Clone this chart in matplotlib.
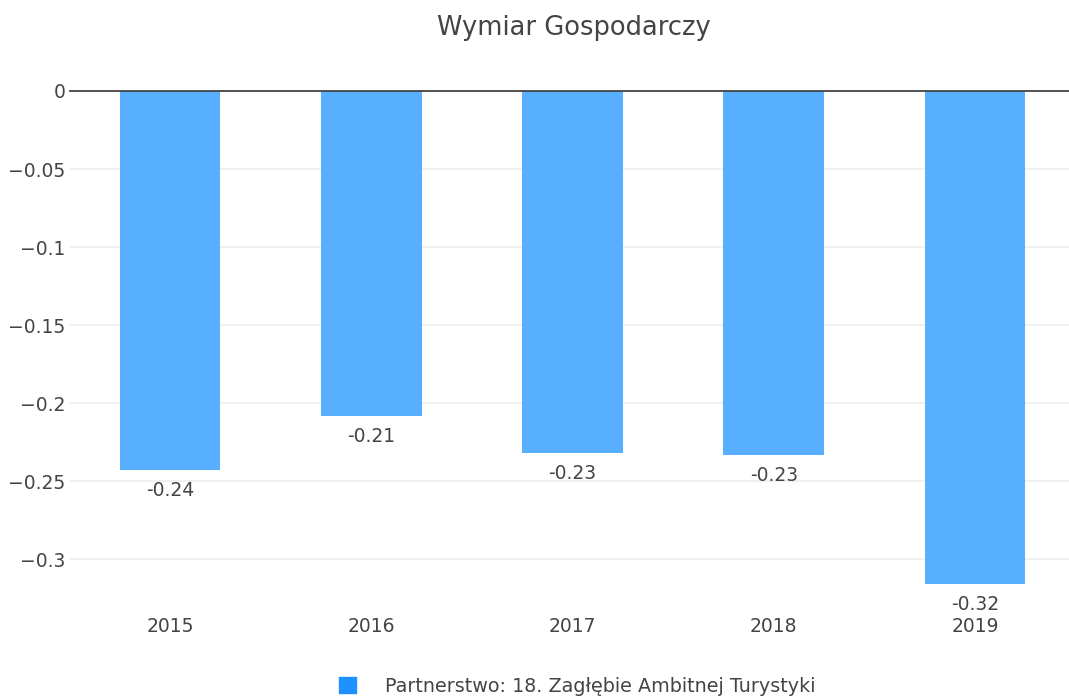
import matplotlib
matplotlib.use("Agg")
import matplotlib.pyplot as plt
import matplotlib.patches as mpatches

plt.rcParams["font.family"] = ["DejaVu Sans"]

years = ["2015", "2016", "2017", "2018", "2019"]
values = [-0.243, -0.208, -0.232, -0.233, -0.316]
labels = ["-0.24", "-0.21", "-0.23", "-0.23", "-0.32"]
yticks = [0, -0.05, -0.1, -0.15, -0.2, -0.25, -0.3]
ytick_labels = ["0", "\u22120.05", "\u22120.1", "\u22120.15", "\u22120.2", "\u22120.25", "\u22120.3"]
series_name = "Partnerstwo: 18. Zagłębie Ambitnej Turystyki"

txt = "#444444"
bar_color = "#58AEFF"

fig = plt.figure(figsize=(10.69, 6.98), dpi=100)
ax = fig.add_axes([69.5 / 1069, 89 / 698, 1006 / 1069, 518 / 698])

x = range(len(years))
ax.bar(x, values, width=0.5, color=bar_color, zorder=2)
for xi, v, lab in zip(x, values, labels):
    ax.annotate(lab, (xi, v), xytext=(0, -8), textcoords="offset points",
                ha="center", va="top", fontsize=13.5, color=txt)

ax.set_xlim(-0.5, 4.5)
ax.set_ylim(-0.332, 0)
ax.set_yticks(yticks)
ax.set_yticklabels(ytick_labels)
ax.set_xticks(list(x))
ax.set_xticklabels(years)
ax.tick_params(axis="both", length=0, labelsize=13.5, labelcolor=txt)
ax.tick_params(axis="y", pad=3)
ax.tick_params(axis="x", pad=6)
ax.grid(axis="y", color="#eeeeee", linewidth=1.2, zorder=0)
ax.axhline(0, color=txt, linewidth=1.3, zorder=3, clip_on=False)
for s in ax.spines.values():
    s.set_visible(False)

fig.text(0.537, 0.96, "Wymiar Gospodarczy", ha="center", va="center",
         fontsize=18.5, color=txt)

handle = mpatches.Patch(color="#1E90FF", label=series_name)
fig.legend(handles=[handle], loc="center", bbox_to_anchor=(0.54, 0.017),
           frameon=False, fontsize=13.8, labelcolor=txt, handlelength=0.85,
           handleheight=0.85, handletextpad=1.5)

fig.savefig("out.png", dpi=100)
